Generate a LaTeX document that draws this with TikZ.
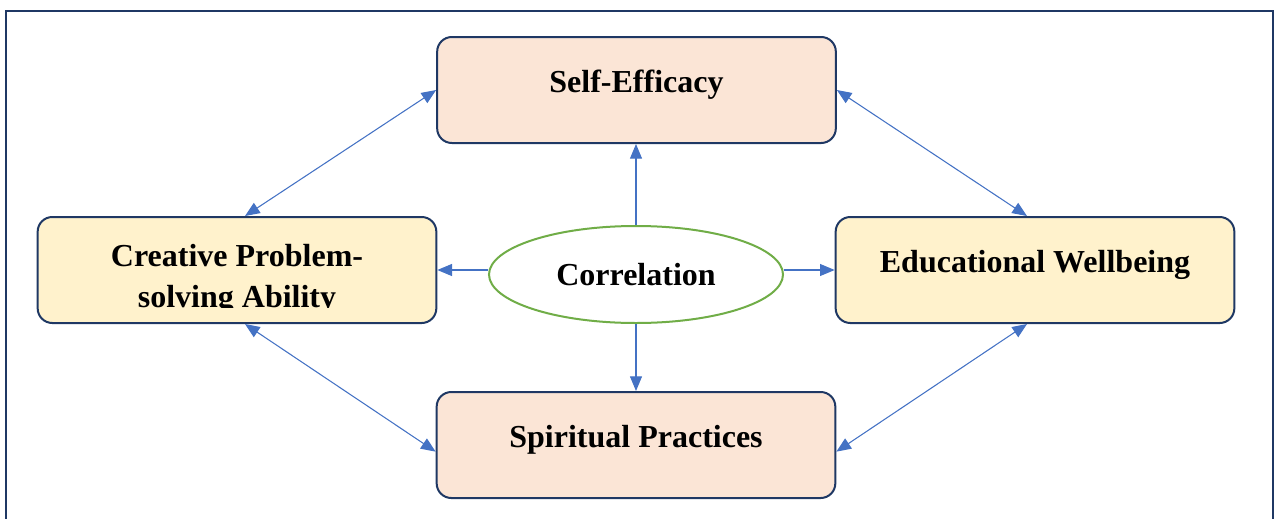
\documentclass[tikz,border=0pt]{standalone}
\usepackage{fontspec}
\setmainfont{Liberation Serif}
\usetikzlibrary{arrows.meta,shapes.geometric,calc}
\definecolor{navy}{HTML}{1F3864}
\definecolor{peach}{HTML}{FBE5D6}
\definecolor{cream}{HTML}{FFF2CC}
\definecolor{link}{HTML}{4472C4}
\definecolor{leaf}{HTML}{70AD47}

\begin{document}
\begin{tikzpicture}[x=0.75pt,y=-0.75pt,
  labelfont/.style={font=\fontsize{24}{30.75}\selectfont\bfseries},
  box/.style={draw=navy,line width=1.5pt,rounded corners=11pt,
    minimum width=299pt,minimum height=79.5pt,inner sep=0pt,
    labelfont,text height=19.5pt,text depth=16.5pt},
  hub/.style={ellipse,draw=leaf,line width=1.5pt,fill=white,
    minimum width=220.5pt,minimum height=72.75pt,inner sep=0pt,labelfont},
  link2/.style={draw=link,line width=0.8pt,
    {Triangle[length=11pt,width=9pt]}-{Triangle[length=11pt,width=9pt]}},
  link1/.style={draw=link,line width=0.8pt,
    -{Triangle[length=11pt,width=9pt]}}]

\useasboundingbox (0,0) rectangle (1281,518);
\clip (0,0) rectangle (1281,518);

% outer frame (runs past the lower edge)
\draw[navy,line width=1.5pt] (6,11) rectangle (1273,560);

% boxes
\node[box,fill=peach] (se)  at (636.5,90)  {Self-Efficacy};
\node[box,fill=cream] (cps) at (237,270)   {};
\node[box,fill=cream] (ew)  at (1035,270)  {Educational Wellbeing};
\node[box,fill=peach] (sp)  at (636,445)   {Spiritual Practices};

% two-line label, cut off at the lower margin of its box
\begin{scope}
  \clip (38,218) rectangle (436,307);
  \node[labelfont,align=center,inner sep=0pt] (cpstext) at (237,279)
    {Creative Problem-\\solving Ability};
\end{scope}

% central ellipse
\node[hub] (corr) at (636,274.5) {Correlation};

% two-way links around the ring
\draw[link2] (se.west) -- ([xshift=6pt]cps.north);
\draw[link2] (se.east) -- ([xshift=-6pt]ew.north);
\draw[link2] ([xshift=6pt]cps.south) -- ([yshift=-5pt]sp.west);
\draw[link2] ([xshift=-6pt]ew.south) -- ([yshift=-5pt]sp.east);

% links out of the ellipse
\draw[link1] (corr.north) -- (corr.north |- se.south);
\draw[link1] (corr.south) -- (corr.south |- sp.north);
\draw[link1] (corr.west |- cps.east) -- (cps.east);
\draw[link1] (corr.east |- ew.west) -- (ew.west);
\end{tikzpicture}
\end{document}
